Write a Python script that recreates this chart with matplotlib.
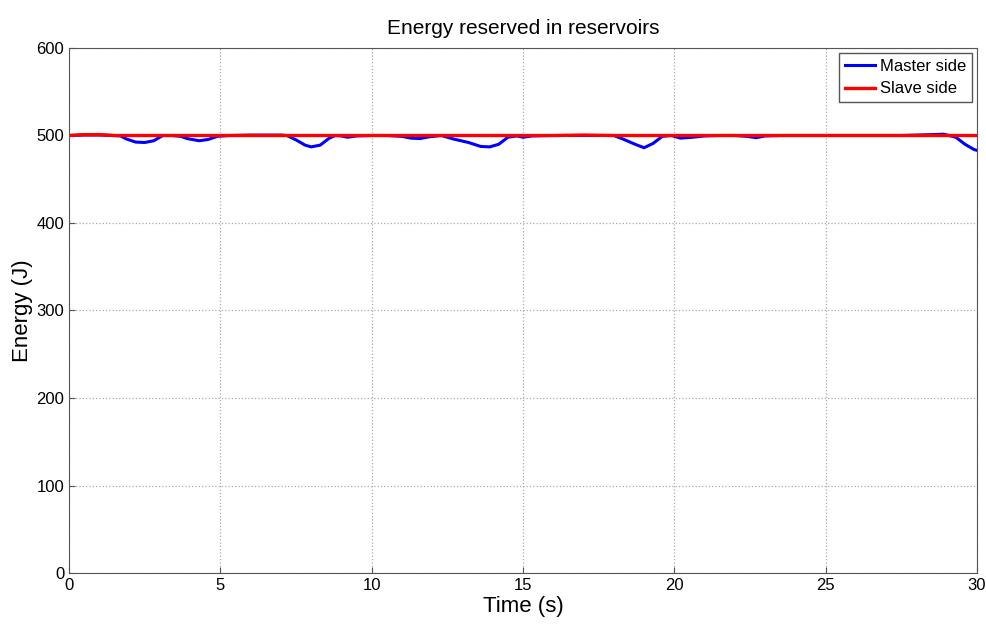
import numpy as np
import matplotlib.pyplot as plt

# ---------------- Data ----------------
master_t = [0.0, 0.5, 1.0, 1.5, 1.7, 1.9, 2.2, 2.5, 2.8, 3.1, 3.4, 3.7, 3.9,
            4.3, 4.6, 4.9, 5.3, 6.0, 6.5, 7.0, 7.2, 7.5, 7.8, 8.0, 8.3, 8.6,
            8.8, 9.0, 9.2, 9.5, 10.0, 10.5, 11.0, 11.3, 11.6, 11.9, 12.3,
            12.7, 13.2, 13.6, 13.9, 14.2, 14.5, 14.8, 15.0, 15.3, 16.0, 16.5,
            17.0, 17.5, 18.0, 18.3, 18.7, 19.0, 19.3, 19.6, 19.9, 20.2, 20.6,
            21.0, 21.5, 22.0, 22.4, 22.7, 23.0, 23.5, 24.0, 25.0, 26.0, 27.0,
            27.5, 28.0, 28.5, 28.9, 29.3, 29.6, 29.9, 30.0]
master_e = [500, 500.5, 500.5, 500, 499.5, 496, 492.5, 492, 494, 500, 500,
            499, 496.5, 494, 495.5, 499, 500, 500.5, 500.5, 500.5, 500, 495,
            489, 487, 489, 497, 500, 499.5, 498, 499.5, 500, 500, 499, 497,
            496.5, 498.5, 500, 496, 492, 487.5, 487, 490, 498, 499.5, 498,
            499.5, 500, 500, 500, 500, 500, 496, 490, 486, 491, 499, 500,
            497, 498, 499.5, 500, 500, 499, 497.5, 499.5, 500, 500, 500,
            500, 500, 500, 500.5, 501, 501.5, 498, 490, 484, 483]

slave_t = [0.0, 0.5, 1.0, 1.5, 5.0, 10.0, 13.0, 16.0, 17.0, 18.0, 20.0,
           22.0, 25.0, 28.0, 30.0]
slave_e = [500, 501, 501, 500, 500, 500, 500, 500, 500.5, 500, 500, 500,
           500, 500, 500]

x_ticks = [0, 5, 10, 15, 20, 25, 30]
y_ticks = [0, 100, 200, 300, 400, 500, 600]

# ---------------- Plot ----------------
plt.rcParams['font.family'] = ['Liberation Sans', 'DejaVu Sans']

fig = plt.figure(figsize=(9.87, 6.25), dpi=100)
ax = fig.add_axes([0.0699, 0.0832, 0.92, 0.84])

ax.plot(master_t, master_e, color='#0000ff', lw=2.2, label='Master side')
ax.plot(slave_t, slave_e, color='#ff0000', lw=2.4, label='Slave side')

ax.set_xlim(0, 30)
ax.set_ylim(0, 600)
ax.set_xticks(x_ticks)
ax.set_yticks(y_ticks)
ax.tick_params(labelsize=12, direction='in', length=4, color='#555555')
ax.grid(True, linestyle=':', color='#aaaaaa', lw=0.9)
for s in ax.spines.values():
    s.set_color('#555555')

ax.set_title('Energy reserved in reservoirs', fontsize=15, pad=10)
ax.set_xlabel('Time (s)', fontsize=16, labelpad=2)
ax.set_ylabel('Energy (J)', fontsize=16, labelpad=2)

leg = ax.legend(loc='upper right', fontsize=12, fancybox=False,
                framealpha=1, edgecolor='#555555', handlelength=1.8,
                borderpad=0.35, labelspacing=0.45, handletextpad=0.3,
                borderaxespad=0.3)

fig.savefig('out.png', dpi=100)
